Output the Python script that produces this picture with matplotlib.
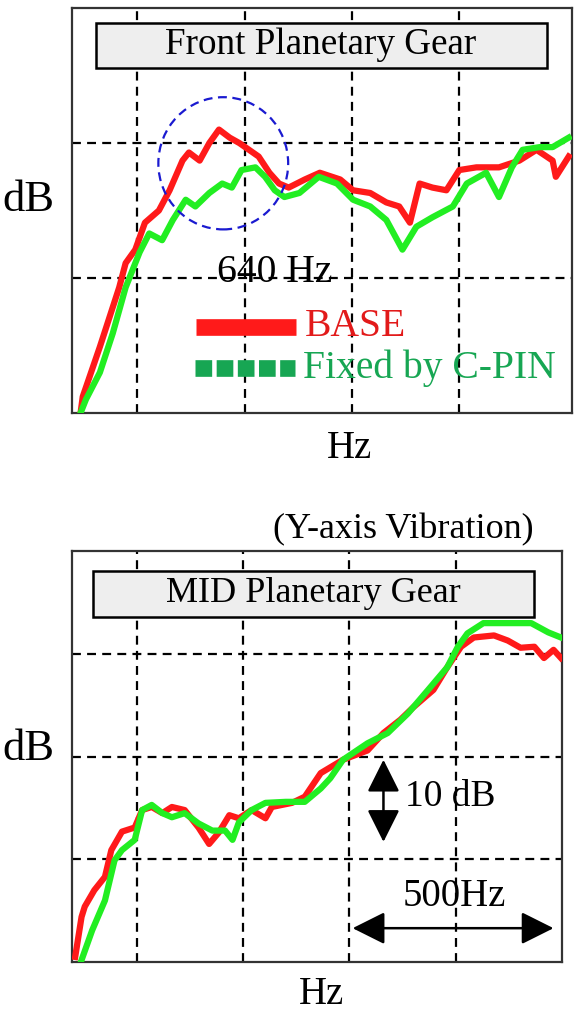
import matplotlib
matplotlib.use('Agg')
import matplotlib.pyplot as plt
from matplotlib.patches import Rectangle, Ellipse

plt.rcParams['font.family'] = ['Liberation Serif', 'DejaVu Serif']

#%% Data (x in grid divisions, y in grid divisions)

# Front planetary gear
front_base_x = [0.47, 0.49, 0.65, 0.74, 0.83, 0.89, 0.98, 1.07, 1.20, 1.30, 1.42, 1.48, 1.58,
                1.67, 1.76, 1.86, 1.95, 2.04, 2.13, 2.23, 2.32, 2.41, 2.56, 2.70, 2.89, 3.01,
                3.17, 3.32, 3.44, 3.54, 3.63, 3.75, 3.88, 4.00, 4.16, 4.37, 4.56, 4.72, 4.87,
                4.90, 5.02]
front_base_y = [0.00, 0.12, 0.49, 0.71, 0.93, 1.11, 1.21, 1.41, 1.50, 1.65, 1.87, 1.93, 1.87,
                2.00, 2.10, 2.04, 2.00, 1.95, 1.90, 1.78, 1.70, 1.67, 1.73, 1.78, 1.73, 1.65,
                1.63, 1.56, 1.53, 1.41, 1.70, 1.67, 1.65, 1.80, 1.82, 1.82, 1.87, 1.95, 1.87,
                1.75, 1.90]
front_cpin_x = [0.47, 0.52, 0.65, 0.77, 0.89, 1.02, 1.11, 1.23, 1.33, 1.45, 1.54, 1.67, 1.79,
                1.88, 1.97, 2.10, 2.19, 2.28, 2.37, 2.51, 2.69, 2.86, 3.01, 3.17, 3.32, 3.47,
                3.60, 3.75, 3.94, 4.07, 4.25, 4.37, 4.49, 4.59, 4.75, 4.87, 5.02]
front_cpin_y = [0.00, 0.10, 0.30, 0.59, 0.93, 1.19, 1.33, 1.28, 1.43, 1.58, 1.53, 1.63, 1.70,
                1.67, 1.80, 1.82, 1.75, 1.65, 1.60, 1.63, 1.75, 1.70, 1.58, 1.53, 1.43, 1.21,
                1.38, 1.45, 1.53, 1.70, 1.78, 1.60, 1.82, 1.95, 1.97, 1.97, 2.04]

# MID planetary gear
mid_base_x = [0.42, 0.48, 0.51, 0.60, 0.70, 0.76, 0.86, 0.98, 1.05, 1.14, 1.24, 1.33, 1.45,
              1.58, 1.68, 1.77, 1.87, 1.96, 2.08, 2.21, 2.27, 2.46, 2.58, 2.73, 2.94, 3.17,
              3.32, 3.48, 3.60, 3.79, 3.92, 4.05, 4.17, 4.36, 4.49, 4.61, 4.74, 4.83, 4.92, 4.99]
mid_base_y = [0.05, 0.44, 0.54, 0.70, 0.83, 1.09, 1.27, 1.31, 1.48, 1.51, 1.45, 1.51, 1.48,
              1.31, 1.15, 1.26, 1.43, 1.40, 1.48, 1.40, 1.51, 1.55, 1.61, 1.84, 1.97, 2.06,
              2.23, 2.36, 2.48, 2.65, 2.87, 3.07, 3.16, 3.18, 3.13, 3.06, 3.07, 2.96, 3.04, 2.96]
mid_cpin_x = [0.48, 0.58, 0.70, 0.79, 0.86, 0.98, 1.05, 1.14, 1.24, 1.33, 1.45, 1.58, 1.71,
              1.83, 1.90, 1.96, 2.08, 2.21, 2.40, 2.58, 2.73, 2.82, 2.94, 3.17, 3.36, 3.55,
              3.74, 3.92, 4.02, 4.11, 4.26, 4.49, 4.71, 4.87, 4.99]
mid_cpin_y = [0.02, 0.31, 0.60, 0.99, 1.09, 1.19, 1.48, 1.53, 1.45, 1.41, 1.45, 1.35, 1.28,
              1.28, 1.19, 1.36, 1.48, 1.55, 1.56, 1.56, 1.69, 1.79, 1.97, 2.13, 2.23, 2.42,
              2.65, 2.87, 3.07, 3.20, 3.30, 3.30, 3.30, 3.21, 3.16]

labels = ['BASE', 'Fixed by C-PIN']
titles = ['Front Planetary Gear', 'MID Planetary Gear']

#%% Styles

red = '#ff1a1a'
lime = '#22ee22'
leg_green = '#17a653'
lw_curve = 4.5

fig = plt.figure(figsize=(5.82, 10.17), dpi=100)
ax1 = fig.add_axes([0.1237, 0.594, 0.859, 0.398])
ax2 = fig.add_axes([0.1237, 0.054, 0.842, 0.404])

def style_axes(ax, xmax, ymax, yticks):
    ax.set_xlim(0.39, xmax)
    ax.set_ylim(0, ymax)
    ax.set_xticks([1, 2, 3, 4])
    ax.set_yticks(yticks)
    ax.tick_params(length=0, labelbottom=False, labelleft=False)
    ax.grid(True, color='k', lw=1.6, ls=(0, (4, 2.8)))
    for s in ax.spines.values():
        s.set_color('#333333')
        s.set_linewidth(1.6)

style_axes(ax1, 5.05, 3.0, [1, 2])
style_axes(ax2, 5.0, 4.0, [1, 2, 3])

#%% Top panel

ax1.plot(front_base_x, front_base_y, color=red, lw=lw_curve, zorder=3)
ax1.plot(front_cpin_x, front_cpin_y, color=lime, lw=lw_curve, zorder=4)
ax1.add_patch(Rectangle((0.61, 2.56), 4.21, 0.33, facecolor='#eeeeee', edgecolor='k',
                        lw=1.8, zorder=5))
ax1.text(2.71, 2.725, titles[0], ha='center', va='center', fontsize=26.7, zorder=6)
ax1.add_patch(Ellipse((1.80, 1.85), 1.21, 0.98, fill=False, edgecolor='#1a1ad0',
                      lw=1.6, ls=(0, (4, 2.5)), zorder=6))
ax1.text(2.28, 1.04, '640 Hz', ha='center', va='center', fontsize=28.5, zorder=6)

# legend
ax1.plot([1.55, 2.48], [0.64, 0.64], color=red, lw=12, solid_capstyle='butt', zorder=6)
ax1.plot([1.54, 2.47], [0.33, 0.33], color=leg_green, lw=12, ls=(0, (1, 0.27)),
         dash_capstyle='butt', zorder=6)
ax1.text(2.56, 0.64, labels[0], ha='left', va='center', fontsize=28.5, color='#e21a1a', zorder=6)
ax1.text(2.54, 0.33, labels[1], ha='left', va='center', fontsize=28.5, color=leg_green, zorder=6)

#%% Bottom panel

ax2.plot(mid_base_x, mid_base_y, color=red, lw=lw_curve, zorder=3)
ax2.plot(mid_cpin_x, mid_cpin_y, color=lime, lw=lw_curve, zorder=4)
ax2.add_patch(Rectangle((0.585, 3.36), 4.155, 0.45, facecolor='#eeeeee', edgecolor='k',
                        lw=1.8, zorder=5))
ax2.text(2.66, 3.585, titles[1], ha='center', va='center', fontsize=26, zorder=6)

arrow = dict(arrowstyle='<|-|>,head_length=1.0,head_width=0.5', color='k', lw=1.8,
             shrinkA=0, shrinkB=0, mutation_scale=20)
ax2.annotate('', xy=(3.32, 1.97), xytext=(3.32, 1.17), arrowprops=arrow, zorder=6)
ax2.text(3.52, 1.61, '10 dB', ha='left', va='center', fontsize=27, zorder=6)
ax2.annotate('', xy=(3.03, 0.33), xytext=(4.92, 0.33), arrowprops=arrow, zorder=6)
ax2.text(3.99, 0.64, '500Hz', ha='center', va='center', fontsize=28, zorder=6)

#%% Axis labels

fig.text(28 / 582, 1 - 200 / 1017, 'dB', ha='center', va='center', fontsize=32)
fig.text(350 / 582, 1 - 448 / 1017, 'Hz', ha='center', va='center', fontsize=28)
fig.text(403 / 582, 1 - 530 / 1017, '(Y-axis Vibration)', ha='center', va='center', fontsize=26)
fig.text(28 / 582, 1 - 749 / 1017, 'dB', ha='center', va='center', fontsize=32)
fig.text(322 / 582, 1 - 995 / 1017, 'Hz', ha='center', va='center', fontsize=28)

fig.savefig('out.png', dpi=100)
